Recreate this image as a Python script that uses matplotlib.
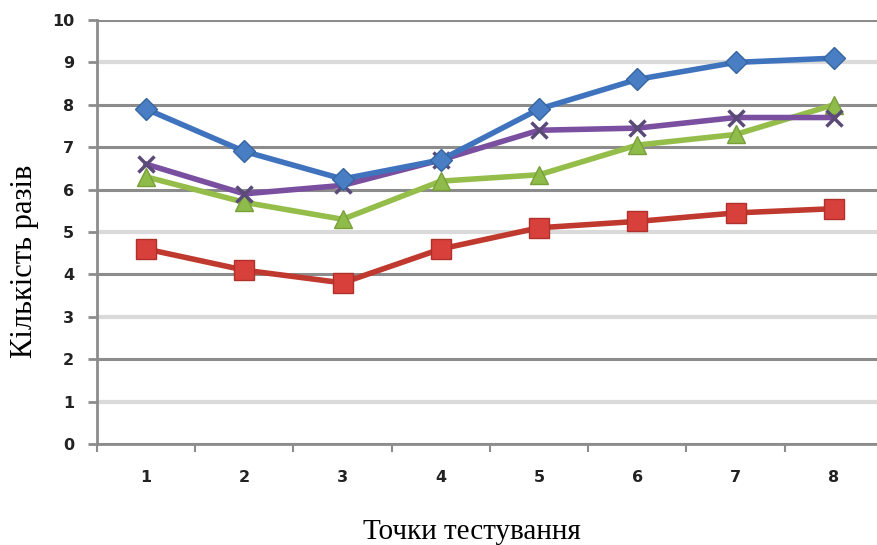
import matplotlib.pyplot as plt
import numpy as np

# точки тестування і значення чотирьох серій
points = [1, 2, 3, 4, 5, 6, 7, 8]
blue_vals = [7.9, 6.9, 6.25, 6.7, 7.9, 8.6, 9.0, 9.1]
purple_vals = [6.6, 5.9, 6.1, 6.7, 7.4, 7.45, 7.7, 7.7]
green_vals = [6.3, 5.7, 5.3, 6.2, 6.35, 7.05, 7.3, 8.0]
red_vals = [4.6, 4.1, 3.8, 4.6, 5.1, 5.25, 5.45, 5.55]
y_ticks = list(range(0, 11))

fig = plt.figure(figsize=(8.78, 5.45), dpi=100)
ax = fig.add_axes([97 / 878, 1 - 444 / 545, 1 - 97 / 878, 424 / 545])

x = np.array(points)
ax.plot(x, red_vals, color='#c0392f', lw=4, marker='s', ms=14,
        markerfacecolor='#d8403c', markeredgecolor='#b0302c', zorder=3)
ax.plot(x, green_vals, color='#94bd4a', lw=4, marker='^', ms=13,
        markerfacecolor='#8fbb4a', markeredgecolor='#78a03a', zorder=4)
ax.plot(x, purple_vals, color='#7a4fa0', lw=4, marker='x', ms=12,
        markeredgewidth=2.5, markeredgecolor='#5a4a78', zorder=5)
ax.plot(x, blue_vals, color='#3f73bd', lw=4, marker='D', ms=11,
        markerfacecolor='#4a7ec4', markeredgecolor='#35669f', zorder=6)

ax.set_xlim(0.5, 8.45)
ax.set_ylim(0, 10)
ax.set_yticks(y_ticks)
ax.set_xticks(x)
ax.set_xticks(np.arange(0.5, 8.5, 1), minor=True)

# сітка: непарні лінії світліші
ax.grid(axis='y', color='#8c8c8c', lw=2.2)
for tick, gl in zip(y_ticks, ax.get_ygridlines()):
    if tick in (1, 3, 5, 9):
        gl.set_color('#dadada')
        gl.set_linewidth(3)
ax.set_axisbelow(True)

for side in ('top', 'right'):
    ax.spines[side].set_visible(False)
for side in ('left', 'bottom'):
    ax.spines[side].set_color('#8c8c8c')
    ax.spines[side].set_linewidth(2)

ax.tick_params(axis='y', length=6.5, width=2, color='#8c8c8c', pad=10)
ax.tick_params(axis='x', which='major', length=0, pad=19)
ax.tick_params(axis='x', which='minor', length=6, width=1.5, color='#8c8c8c')
for lbl in ax.get_xticklabels() + ax.get_yticklabels():
    lbl.set_fontfamily(['Liberation Sans Narrow', 'DejaVu Sans'])
    lbl.set_fontweight('bold')
    lbl.set_fontsize(11.5)
    lbl.set_color('#222222')

ax.set_xlabel('Точки тестування', family='Liberation Serif', fontsize=21)
ax.set_ylabel('Кількість разів', family='Liberation Serif', fontsize=22)
ax.xaxis.set_label_coords(0.48, -0.178)
ax.yaxis.set_label_coords(-0.074, 0.43)

fig.savefig('out.png', dpi=100)
